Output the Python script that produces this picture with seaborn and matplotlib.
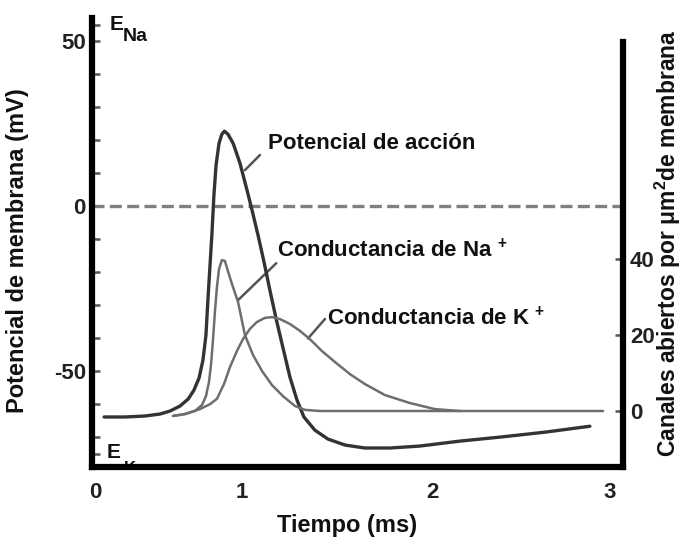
import matplotlib
matplotlib.use("Agg")
import matplotlib.pyplot as plt
import seaborn as sns

# Potencial de acción (ms, mV)
ap_t = [0.071, 0.189, 0.302, 0.387, 0.443, 0.499, 0.545, 0.578, 0.607, 0.629,
        0.646, 0.657, 0.669, 0.680, 0.691, 0.703, 0.720, 0.736, 0.750, 0.770,
        0.799, 0.838, 0.878, 0.906, 0.940, 0.974, 1.007, 1.041, 1.081, 1.120,
        1.160, 1.199, 1.261, 1.335, 1.431, 1.543, 1.685, 1.854, 2.080, 2.305,
        2.559, 2.813]
ap_v = [-63.9, -63.9, -63.6, -63.0, -62.1, -60.6, -58.5, -55.8, -52.1, -46.7,
        -39.1, -28.5, -17.9, -8.2, 3.3, 12.4, 19.1, 21.8, 22.7, 21.8,
        19.1, 13.0, 4.8, -1.2, -8.8, -17.0, -25.5, -33.9, -43.0, -51.8,
        -58.8, -63.9, -67.9, -70.6, -72.4, -73.3, -73.3, -72.7, -71.2, -70.0,
        -68.5, -66.7]

# Conductancia de Na+ (canales abiertos por µm²)
na_t = [0.460, 0.528, 0.584, 0.624, 0.646, 0.663, 0.675, 0.686, 0.697, 0.708,
        0.720, 0.736, 0.753, 0.770, 0.793, 0.827, 0.866, 0.912, 0.963, 1.019,
        1.081, 1.149, 1.205, 1.289, 2.887]
na_v = [-1.3, -0.8, 0.0, 1.6, 3.9, 7.6, 12.4, 18.9, 26.3, 32.6,
        37.4, 39.7, 39.5, 36.8, 33.4, 28.7, 20.0, 14.7, 10.5, 6.8,
        3.9, 1.3, 0.3, 0.0, 0.0]

# Conductancia de K+
k_t = [0.460, 0.528, 0.612, 0.669, 0.708, 0.748, 0.782, 0.821, 0.855, 0.894,
       0.933, 0.979, 1.018, 1.063, 1.120, 1.176, 1.233, 1.300, 1.374, 1.459,
       1.543, 1.656, 1.797, 1.938, 2.079]
k_v = [-1.3, -0.8, 0.5, 1.8, 3.2, 7.1, 11.6, 15.8, 18.9, 21.6,
       23.4, 24.5, 24.7, 24.2, 22.9, 21.1, 18.9, 15.8, 12.9, 9.7,
       7.1, 4.2, 2.1, 0.5, 0.0]

x_label_pos = [0.02, 0.849, 1.922, 2.926]
x_tick_marks = [0.894, 1.984]
x_tick_labels = ['0', '1', '2', '3']
left_ticks = [-50, 0, 50]
left_minor = [-75, -70, -60, -40, -30, -20, -10, 10, 20, 30, 40, 55]
right_ticks = [0, 20, 40]

sns.set_style('white')
plt.rcParams['font.family'] = ['Liberation Sans', 'DejaVu Sans']
plt.rcParams['font.weight'] = 'bold'
plt.rcParams['mathtext.fontset'] = 'custom'
plt.rcParams['mathtext.rm'] = 'Liberation Sans:bold'
plt.rcParams['mathtext.it'] = 'Liberation Sans:bold'
plt.rcParams['mathtext.bf'] = 'Liberation Sans:bold'

fig = plt.figure(figsize=(6.89, 5.4), dpi=100)
ax = fig.add_axes([91.5 / 689, 1 - 466.5 / 540, (623 - 91.5) / 689, (466.5 - 18) / 540])
ax2 = ax.twinx()

# potencial de membrana
ax.axhline(0, color='#808080', lw=2.4, ls=(0, (3.6, 1.6)), zorder=1)
sns.lineplot(x=ap_t, y=ap_v, ax=ax, color='#333333', lw=2.4, sort=False, estimator=None, zorder=3)

# conductancias
sns.lineplot(x=na_t, y=na_v, ax=ax2, color='#6e6e6e', lw=1.8, sort=False, estimator=None)
sns.lineplot(x=k_t, y=k_v, ax=ax2, color='#6e6e6e', lw=1.8, sort=False, estimator=None)

ax.set_xlim(0, 3)
ax.set_ylim(-78.9, 57.0)
ax2.set_ylim(-14.6, 103.4)

for s in ['top', 'right']:
    ax.spines[s].set_visible(False)
for s in ['top', 'left', 'bottom']:
    ax2.spines[s].set_visible(False)
for sp in [ax.spines['left'], ax.spines['bottom'], ax2.spines['right']]:
    sp.set_linewidth(4.5)
    sp.set_color('black')
    sp.set_capstyle('projecting')
ax2.spines['right'].set_bounds(-14.6, 97)

ax.set_xticks(x_label_pos)
ax.set_xticklabels(x_tick_labels)
ax.set_xticks(x_tick_marks, minor=True)
ax.tick_params(axis='x', which='major', length=0, labelsize=16, pad=11, labelcolor='#222222')
ax.tick_params(axis='x', which='minor', direction='inout', length=12, width=2.2, color='black')

ax.set_yticks(left_ticks)
ax.set_yticklabels([str(v) for v in left_ticks])
ax.set_yticks(left_minor, minor=True)
ax.tick_params(axis='y', which='both', direction='in', length=6, width=1.8, color='#555555')
ax.tick_params(axis='y', which='major', labelsize=16, pad=4, labelcolor='#222222')

ax2.set_yticks(right_ticks)
ax2.set_yticklabels([str(v) for v in right_ticks])
ax2.tick_params(axis='y', direction='in', length=6, width=1.8, color='#555555',
                labelsize=16, pad=5, labelcolor='#222222')
ax.set_xlabel('')
ax.set_ylabel('')
ax2.set_ylabel('')

# etiquetas con líneas guía
lead = dict(color='#555555', lw=1.8)
ax.plot([0.866, 0.951], [10.9, 15.5], **lead)
ax.plot([0.827, 1.043], [-28.5, -17.3], **lead)
ax.plot([1.222, 1.318], [-40.1, -34.2], **lead)
ax.text(0.996, 17.3, 'Potencial de acción', fontsize=16, va='baseline', color='#111111')
ax.text(1.047, -15.5, 'Conductancia de Na $^{+}$', fontsize=16, va='baseline', color='#111111')
ax.text(1.329, -36.1, 'Conductancia de K $^{+}$', fontsize=16, va='baseline', color='#111111')

# potenciales de equilibrio
fig.text(110 / 689, 1 - 30 / 540, 'E', fontsize=15, va='baseline', color='#111111')
fig.text(123 / 689, 1 - 41 / 540, 'Na', fontsize=14, va='baseline', color='#111111')
ax.text(0.087, -76.4, 'E', fontsize=15, va='baseline', color='#111111', clip_on=True, zorder=1)
ax.text(0.18, -81.0, 'K', fontsize=12, va='baseline', color='#111111', clip_on=True, zorder=1)

fig.text(347 / 689, 1 - 532 / 540, 'Tiempo (ms)', fontsize=17, ha='center', va='baseline', color='#111111')
fig.text(18 / 689, 1 - 251 / 540, 'Potencial de membrana (mV)', fontsize=17, rotation=90,
         ha='center', va='center', color='#111111')
fig.text(668 / 689, 1 - 243 / 540, 'Canales abiertos por μm$^{2}$de membrana', fontsize=16.5,
         rotation=90, ha='center', va='center', color='#111111')

fig.savefig('out.png', dpi=100)
